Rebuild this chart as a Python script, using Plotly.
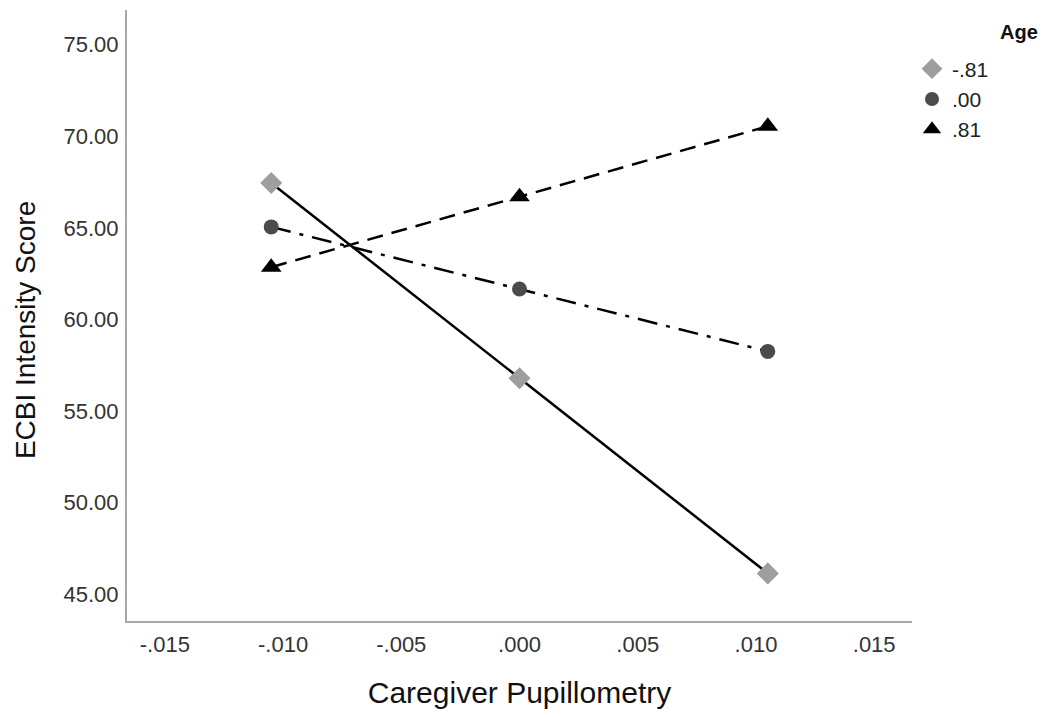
import plotly.graph_objects as go

# Data
x_vals = [-0.0105, 0.0, 0.0105]
age_labels = ["-.81", ".00", ".81"]
y_low = [67.45, 56.78, 46.12]
y_mid = [65.05, 61.66, 58.25]
y_high = [62.85, 66.70, 70.55]

x_tickvals = [-0.015, -0.010, -0.005, 0.0, 0.005, 0.010, 0.015]
x_ticktext = ["-.015", "-.010", "-.005", ".000", ".005", ".010", ".015"]
y_tickvals = [45, 50, 55, 60, 65, 70, 75]
y_ticktext = ["45.00", "50.00", "55.00", "60.00", "65.00", "70.00", "75.00"]

series = [
    (age_labels[0], y_low, "diamond", "#9e9e9e", 17, "solid"),
    (age_labels[1], y_mid, "circle", "#4b4b4b", 15, "20px,9px,4px,9px"),
    (age_labels[2], y_high, "triangle-up", "#000000", 18, "16px,9px"),
]

fig = go.Figure()
for name, ys, sym, col, sz, dash in series:
    fig.add_trace(go.Scatter(
        x=x_vals, y=ys, mode="lines+markers", showlegend=False,
        line=dict(color="black", width=2.5, dash=dash),
        marker=dict(symbol=sym, color=col, size=sz, line=dict(width=0)),
    ))
for name, ys, sym, col, sz, dash in series:
    fig.add_trace(go.Scatter(
        x=[None], y=[None], mode="markers", name=name, showlegend=True,
        marker=dict(symbol=sym, color=col, size=sz - 1, line=dict(width=0)),
    ))

font_family = "Liberation Sans, Arial, sans-serif"
fig.update_layout(
    width=1049, height=717,
    margin=dict(l=127, r=137, t=10, b=96),
    paper_bgcolor="white", plot_bgcolor="white",
    font=dict(family=font_family, color="#222222"),
    showlegend=True,
    legend=dict(
        x=1.0, xanchor="left", y=0.937, yanchor="top",
        font=dict(size=21, color="#222222"),
        bgcolor="rgba(0,0,0,0)", traceorder="normal",
        itemsizing="trace",
    ),
    annotations=[
        dict(
            text="<b>Age</b>", xref="paper", yref="paper",
            x=1.163, y=0.964, xanchor="right", yanchor="middle",
            showarrow=False, font=dict(size=20, color="#111111"),
        ),
        dict(
            text="ECBI Intensity Score", xref="paper", yref="paper",
            x=-0.13, y=0.476, xanchor="center", yanchor="middle",
            textangle=-90, showarrow=False,
            font=dict(size=28, color="#111111"),
        ),
    ],
)
fig.update_xaxes(
    range=[-0.0166, 0.0166], showgrid=False, zeroline=False,
    showline=True, linecolor="#a8a8a8", linewidth=2,
    tickvals=x_tickvals, ticktext=x_ticktext, ticks="",
    tickfont=dict(size=22, color="#333333"), ticklabelstandoff=3,
    title=dict(text="Caregiver Pupillometry", font=dict(size=30, color="#111111"), standoff=26),
)
fig.update_yaxes(
    range=[43.52, 76.9], showgrid=False, zeroline=False,
    showline=True, linecolor="#a8a8a8", linewidth=2,
    tickvals=y_tickvals, ticktext=y_ticktext, ticks="",
    tickfont=dict(size=22, color="#333333"), ticklabelstandoff=2,
)

fig.write_html("out.html")
